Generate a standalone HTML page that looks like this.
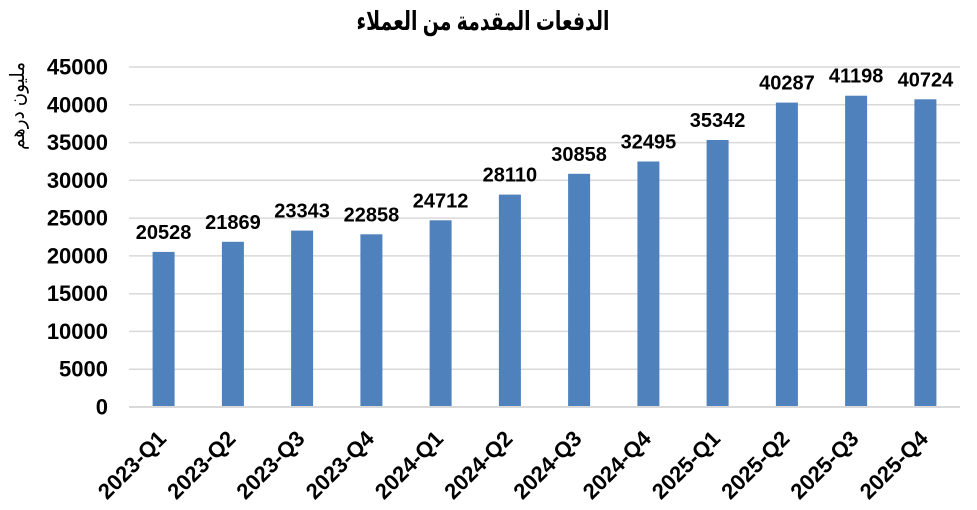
<!DOCTYPE html>
<html>
<head>
<meta charset="utf-8">
<style>
  html,body{margin:0;padding:0;background:#fff;}
  svg{display:block;}
  text{font-family:"Liberation Sans","DejaVu Sans",sans-serif;fill:#000;}
</style>
</head>
<body>
<svg width="977" height="510" viewBox="0 0 977 510" xmlns="http://www.w3.org/2000/svg">
  <rect width="977" height="510" fill="#fff"/>
  <!-- title -->
  <text x="483" y="30" font-size="26" font-weight="bold" text-anchor="middle" direction="rtl" textLength="253" lengthAdjust="spacingAndGlyphs">الدفعات المقدمة من العملاء</text>
  <!-- y axis title -->
  <text transform="translate(18,106) rotate(-90)" x="0" y="0" font-size="20" text-anchor="middle" dominant-baseline="central" direction="rtl" textLength="88" lengthAdjust="spacingAndGlyphs">مليون درهم</text>
  <!-- gridlines -->
  <g stroke="#d9d9d9" stroke-width="1.5">
    <line x1="129" x2="960" y1="67" y2="67"/>
    <line x1="129" x2="960" y1="104.8" y2="104.8"/>
    <line x1="129" x2="960" y1="142.6" y2="142.6"/>
    <line x1="129" x2="960" y1="180.3" y2="180.3"/>
    <line x1="129" x2="960" y1="218.1" y2="218.1"/>
    <line x1="129" x2="960" y1="255.9" y2="255.9"/>
    <line x1="129" x2="960" y1="293.7" y2="293.7"/>
    <line x1="129" x2="960" y1="331.4" y2="331.4"/>
    <line x1="129" x2="960" y1="369.2" y2="369.2"/>
  </g>
  <!-- y ticks -->
  <g font-size="22" font-weight="bold" text-anchor="end">
    <text x="108" y="74.5">45000</text>
    <text x="108" y="112.3">40000</text>
    <text x="108" y="150.1">35000</text>
    <text x="108" y="187.8">30000</text>
    <text x="108" y="225.6">25000</text>
    <text x="108" y="263.4">20000</text>
    <text x="108" y="301.2">15000</text>
    <text x="108" y="338.9">10000</text>
    <text x="108" y="376.7">5000</text>
    <text x="108" y="414.5">0</text>
  </g>
  <!-- bars -->
  <g fill="#4f81bd">
    <rect x="152.6" y="251.9" width="22" height="155.1"/>
    <rect x="221.9" y="241.8" width="22" height="165.2"/>
    <rect x="291.1" y="230.6" width="22" height="176.4"/>
    <rect x="360.4" y="234.3" width="22" height="172.7"/>
    <rect x="429.6" y="220.3" width="22" height="186.7"/>
    <rect x="498.9" y="194.6" width="22" height="212.4"/>
    <rect x="568.1" y="173.8" width="22" height="233.2"/>
    <rect x="637.4" y="161.5" width="22" height="245.5"/>
    <rect x="706.6" y="140.0" width="22" height="267.0"/>
    <rect x="775.9" y="102.6" width="22" height="304.4"/>
    <rect x="845.1" y="95.7" width="22" height="311.3"/>
    <rect x="914.4" y="99.3" width="22" height="307.7"/>
  </g>
  <!-- axis line -->
  <line x1="129" x2="960" y1="407" y2="407" stroke="#d9d9d9" stroke-width="2"/>
  <!-- data labels -->
  <g font-size="20" font-weight="bold" text-anchor="middle">
    <text x="163.6" y="239">20528</text>
    <text x="232.9" y="228.8">21869</text>
    <text x="302.1" y="217.6">23343</text>
    <text x="371.4" y="221.3">22858</text>
    <text x="440.6" y="207.3">24712</text>
    <text x="509.9" y="181.6">28110</text>
    <text x="579.1" y="160.8">30858</text>
    <text x="648.4" y="148.5">32495</text>
    <text x="717.6" y="127">35342</text>
    <text x="786.9" y="89.6">40287</text>
    <text x="856.1" y="82.7">41198</text>
    <text x="925.4" y="86.3">40724</text>
  </g>
  <!-- x labels -->
  <g font-size="22" font-weight="bold" text-anchor="end">
    <text x="167.6" y="440" transform="rotate(-45 167.6 440)">2023-Q1</text>
    <text x="236.9" y="440" transform="rotate(-45 236.9 440)">2023-Q2</text>
    <text x="306.1" y="440" transform="rotate(-45 306.1 440)">2023-Q3</text>
    <text x="375.4" y="440" transform="rotate(-45 375.4 440)">2023-Q4</text>
    <text x="444.6" y="440" transform="rotate(-45 444.6 440)">2024-Q1</text>
    <text x="513.9" y="440" transform="rotate(-45 513.9 440)">2024-Q2</text>
    <text x="583.1" y="440" transform="rotate(-45 583.1 440)">2024-Q3</text>
    <text x="652.4" y="440" transform="rotate(-45 652.4 440)">2024-Q4</text>
    <text x="721.6" y="440" transform="rotate(-45 721.6 440)">2025-Q1</text>
    <text x="790.9" y="440" transform="rotate(-45 790.9 440)">2025-Q2</text>
    <text x="860.1" y="440" transform="rotate(-45 860.1 440)">2025-Q3</text>
    <text x="929.4" y="440" transform="rotate(-45 929.4 440)">2025-Q4</text>
  </g>
</svg>
</body>
</html>
